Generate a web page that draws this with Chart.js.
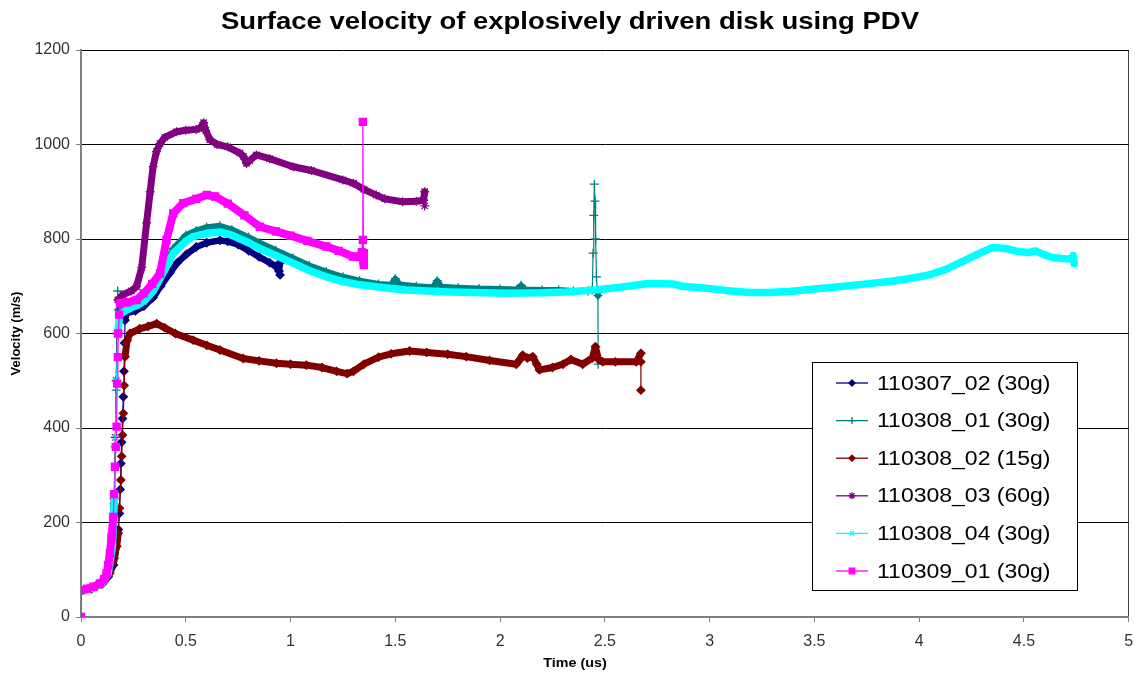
<!DOCTYPE html>
<html>
<head>
  <title>Surface velocity of explosively driven disk using PDV</title>
  <script src="https://cdn.jsdelivr.net/npm/chart.js"></script>
  <style>
    body { margin: 0; background: #fff; }
  </style>
</head>
<body>
  <canvas id="pdvChart" width="1135" height="677"></canvas>
  <script>
    // legend names
    const seriesNames = ['110307_02 (30g)', '110308_01 (30g)', '110308_02 (15g)',
                         '110308_03 (60g)', '110308_04 (30g)', '110309_01 (30g)'];

    // time (us) / velocity (m/s)
    const t110307_02 = [0, 0.05, 0.1, 0.13, 0.155, 0.17, 0.178, 0.183, 0.187, 0.19, 0.194, 0.198, 0.202, 0.205, 0.208, 0.21, 0.218, 0.26, 0.3, 0.344, 0.38, 0.424, 0.46, 0.504, 0.55, 0.6, 0.663, 0.7, 0.75, 0.8, 0.85, 0.9, 0.93, 0.945, 0.95, 0.95];
    const v110307_02 = [55, 60, 70, 85, 110, 150, 185, 219, 270, 325, 370, 420, 466, 520, 580, 628, 643, 648, 658, 676, 700, 728, 750, 768, 783, 792, 797, 795, 788, 775, 762, 750, 742, 732, 750, 724];

    const t110308_01 = [0, 0.05, 0.1, 0.13, 0.15, 0.158, 0.164, 0.168, 0.172, 0.175, 0.178, 0.185, 0.22, 0.27, 0.3, 0.345, 0.4, 0.44, 0.5, 0.55, 0.6, 0.663, 0.72, 0.8, 0.853, 0.93, 1.012, 1.09, 1.171, 1.25, 1.33, 1.42, 1.48, 1.5, 1.52, 1.6, 1.68, 1.7, 1.72, 1.8, 1.9, 2.0, 2.08, 2.1, 2.12, 2.2, 2.28, 2.35, 2.42, 2.44, 2.444, 2.447, 2.45, 2.453, 2.456, 2.46, 2.464, 2.467, 2.468];
    const v110308_01 = [55, 60, 72, 92, 140, 240, 360, 480, 600, 690, 650, 652, 660, 668, 678, 700, 745, 780, 808, 818, 825, 828, 820, 804, 792, 776, 760, 744, 731, 720, 712, 705, 703, 716, 704, 700, 698, 712, 699, 697, 695, 694, 693, 702, 693, 692, 692, 690, 690, 692, 770, 850, 916, 880, 800, 720, 688, 680, 535];

    const t110308_02 = [0, 0.05, 0.1, 0.138, 0.158, 0.17, 0.178, 0.184, 0.19, 0.194, 0.198, 0.202, 0.206, 0.21, 0.22, 0.234, 0.28, 0.32, 0.361, 0.4, 0.45, 0.535, 0.6, 0.663, 0.774, 0.85, 0.933, 1.0, 1.076, 1.15, 1.22, 1.27, 1.3, 1.35, 1.42, 1.48, 1.568, 1.65, 1.75, 1.838, 1.95, 2.077, 2.095, 2.108, 2.13, 2.156, 2.175, 2.188, 2.25, 2.3, 2.338, 2.394, 2.44, 2.455, 2.47, 2.49, 2.55, 2.65, 2.672, 2.672, 2.672];
    const v110308_02 = [55, 60, 70, 93, 125, 150, 177, 230, 290, 340, 385, 431, 490, 551, 585, 600, 610, 615, 621, 612, 600, 586, 575, 565, 547, 542, 537, 535, 533, 528, 520, 515, 520, 535, 550, 557, 563, 560, 556, 551, 543, 535, 545, 554, 548, 551, 535, 523, 528, 535, 545, 535, 548, 572, 545, 540, 540, 540, 558, 480, 540];

    const t110308_03 = [0, 0.05, 0.1, 0.13, 0.15, 0.158, 0.164, 0.168, 0.172, 0.176, 0.2, 0.24, 0.265, 0.29, 0.313, 0.33, 0.344, 0.36, 0.377, 0.4, 0.456, 0.5, 0.55, 0.575, 0.585, 0.595, 0.615, 0.65, 0.7, 0.758, 0.775, 0.79, 0.805, 0.837, 0.9, 1.012, 1.1, 1.249, 1.3, 1.35, 1.409, 1.45, 1.535, 1.6, 1.635, 1.64, 1.64];
    const v110308_03 = [55, 60, 72, 92, 140, 250, 380, 500, 600, 671, 682, 690, 699, 740, 834, 900, 953, 985, 1002, 1015, 1027, 1030, 1032, 1036, 1046, 1030, 1010, 1000, 995, 982, 975, 960, 966, 978, 970, 953, 945, 925, 918, 905, 893, 885, 879, 880, 882, 900, 870];

    const t110308_04 = [0, 0.05, 0.1, 0.13, 0.15, 0.16, 0.165, 0.17, 0.175, 0.185, 0.218, 0.27, 0.3, 0.345, 0.4, 0.44, 0.5, 0.535, 0.6, 0.663, 0.72, 0.8, 0.853, 0.93, 1.012, 1.09, 1.171, 1.25, 1.33, 1.45, 1.55, 1.76, 2.03, 2.2, 2.315, 2.45, 2.553, 2.664, 2.712, 2.823, 2.87, 2.982, 3.1, 3.189, 3.28, 3.38, 3.5, 3.618, 3.75, 3.856, 3.95, 4.047, 4.13, 4.205, 4.28, 4.349, 4.412, 4.47, 4.523, 4.555, 4.59, 4.635, 4.68, 4.73, 4.735, 4.74];
    const v110308_04 = [55, 60, 72, 92, 150, 260, 380, 500, 600, 640, 650, 660, 668, 690, 735, 770, 795, 805, 812, 815, 808, 792, 780, 765, 749, 733, 720, 710, 703, 697, 692, 688, 685, 686, 688, 692, 697, 703, 706, 705, 700, 696, 690, 687, 687, 689, 694, 699, 705, 710, 716, 724, 736, 752, 768, 782, 780, 774, 771, 775, 768, 761, 759, 757, 765, 748];

    const t110309_01 = [0, 0, 0.03, 0.06, 0.09, 0.11, 0.122, 0.13, 0.138, 0.146, 0.154, 0.158, 0.162, 0.166, 0.17, 0.173, 0.176, 0.178, 0.182, 0.186, 0.22, 0.265, 0.3, 0.34, 0.377, 0.408, 0.44, 0.488, 0.55, 0.6, 0.64, 0.7, 0.78, 0.853, 0.93, 1.0, 1.08, 1.171, 1.23, 1.297, 1.33, 1.34, 1.345, 1.345, 1.348, 1.35, 1.35];
    const v110309_01 = [0, 57, 60, 64, 71, 80, 92, 110, 135, 170, 212, 260, 318, 360, 403, 494, 550, 600, 640, 664, 666, 671, 685, 705, 727, 798, 854, 876, 885, 893, 890, 875, 850, 826, 816, 807, 796, 784, 775, 763, 762, 772, 798, 1048, 752, 770, 745];

    const xTicks = [0, 0.5, 1, 1.5, 2, 2.5, 3, 3.5, 4, 4.5, 5];
    const yTicks = [0, 200, 400, 600, 800, 1000, 1200];

    const chartTitle = 'Surface velocity of explosively driven disk using PDV';
    const xTitle = 'Time (us)';
    const yTitle = 'Velocity (m/s)';

    const times = [t110307_02, t110308_01, t110308_02, t110308_03, t110308_04, t110309_01];
    const vels = [v110307_02, v110308_01, v110308_02, v110308_03, v110308_04, v110309_01];

    const colors = ['#000080', '#008080', '#800000', '#800080', '#00ffff', '#ff00ff'];
    const markers = ['rectRot', 'cross', 'rectRot', 'star', 'crossRot', 'rect'];
    const markerSize = [4, 4.5, 4, 4.5, 4, 5];
    const bandWidth = [6.5, 6, 7, 7, 7.5, 8];

    // near-vertical jumps get a thin line, like Excel's 1px line between sparse markers
    const segWidth = w => c =>
      (Math.abs(c.p1.x - c.p0.x) < 1.6 && Math.abs(c.p1.y - c.p0.y) > 10) ? 1.2 : w;

    const datasets = seriesNames.map((name, i) => ({
      label: name,
      data: times[i].map((t, k) => ({ x: t, y: vels[i][k] })),
      showLine: true,
      borderColor: colors[i],
      backgroundColor: colors[i],
      borderWidth: bandWidth[i],
      borderJoinStyle: 'round',
      borderCapStyle: 'round',
      segment: { borderWidth: segWidth(bandWidth[i]) },
      pointStyle: markers[i],
      pointRadius: markerSize[i],
      pointBorderWidth: 1.3,
      pointBorderColor: colors[i],
      pointBackgroundColor: colors[i],
      tension: 0,
      order: seriesNames.length - i
    }));

    const fontFam = "'Liberation Sans', Arial, sans-serif";

    // the source picture is a little stretched sideways, so the texts are too
    function wideText(ctx, text, x, y, align, stretch) {
      ctx.save();
      ctx.translate(x, y);
      ctx.scale(stretch, 1);
      ctx.textAlign = align;
      ctx.textBaseline = 'middle';
      ctx.fillText(text, 0, 0);
      ctx.restore();
    }

    const extras = {
      id: 'extras',
      afterDraw(chart) {
        const ctx = chart.ctx;
        ctx.save();
        ctx.fillStyle = '#000';
        ctx.font = 'bold 24px ' + fontFam;
        wideText(ctx, chartTitle, 570, 22, 'center', 1.145);
        ctx.font = 'bold 13px ' + fontFam;
        wideText(ctx, xTitle, 575, 663, 'center', 1.1);

        // legend box
        const left = 812, top = 362, w = 265, h = 228;
        ctx.fillStyle = '#fff';
        ctx.fillRect(left, top, w, h);
        ctx.strokeStyle = '#000';
        ctx.lineWidth = 1;
        ctx.strokeRect(left + 0.5, top + 0.5, w, h);
        seriesNames.forEach((name, i) => {
          const y = top + 21 + i * 37.6;
          ctx.strokeStyle = colors[i];
          ctx.lineWidth = 1.3;
          ctx.beginPath();
          ctx.moveTo(836, y);
          ctx.lineTo(868, y);
          ctx.stroke();
          ctx.fillStyle = colors[i];
          if (Chart.helpers && Chart.helpers.drawPoint) {
            Chart.helpers.drawPoint(ctx, { pointStyle: markers[i], radius: markerSize[i] - 1, borderWidth: 1.2, rotation: 0 }, 852, y);
          }
          ctx.fillStyle = '#000';
          ctx.font = '20px ' + fontFam;
          wideText(ctx, name, 877, y + 1, 'left', 1.15);
        });
        ctx.restore();
      }
    };

    new Chart(document.getElementById('pdvChart'), {
      type: 'scatter',
      data: { datasets },
      plugins: [extras],
      options: {
        responsive: false,
        animation: false,
        layout: { padding: { left: 0, right: 5, top: 50, bottom: 0 } },
        plugins: {
          legend: { display: false },
          tooltip: { enabled: false },
          title: { display: false }
        },
        scales: {
          x: {
            type: 'linear',
            min: 0,
            max: 5,
            afterBuildTicks: s => { s.ticks = xTicks.map(v => ({ value: v })); },
            afterFit: s => { s.height = 60; s.paddingRight = 0; s.paddingLeft = 0; },
            ticks: {
              color: '#333',
              font: { family: fontFam, size: 16 },
              padding: 10,
              maxRotation: 0,
              callback: v => String(v)
            },
            grid: {
              drawOnChartArea: true,
              color: c => (c.tick && c.tick.value === 5) ? '#444' : 'rgba(0,0,0,0)',
              tickColor: '#808080',
              tickLength: 5,
              lineWidth: 1
            },
            border: { color: '#808080', width: 2 },
            title: { display: false }
          },
          y: {
            min: 0,
            max: 1200,
            afterBuildTicks: s => { s.ticks = yTicks.map(v => ({ value: v })); },
            afterFit: s => { s.width = 81; s.paddingTop = 0; },
            ticks: {
              color: '#333',
              font: { family: fontFam, size: 16 },
              padding: 6,
              callback: v => String(v)
            },
            grid: {
              color: '#000',
              lineWidth: 1,
              tickColor: '#808080',
              tickLength: 5
            },
            border: { color: '#808080', width: 2 },
            title: {
              display: true,
              text: yTitle,
              color: '#000',
              font: { family: fontFam, size: 13, weight: 'bold' },
              padding: { top: 9, bottom: 0 }
            }
          }
        }
      }
    });
  </script>
</body>
</html>
